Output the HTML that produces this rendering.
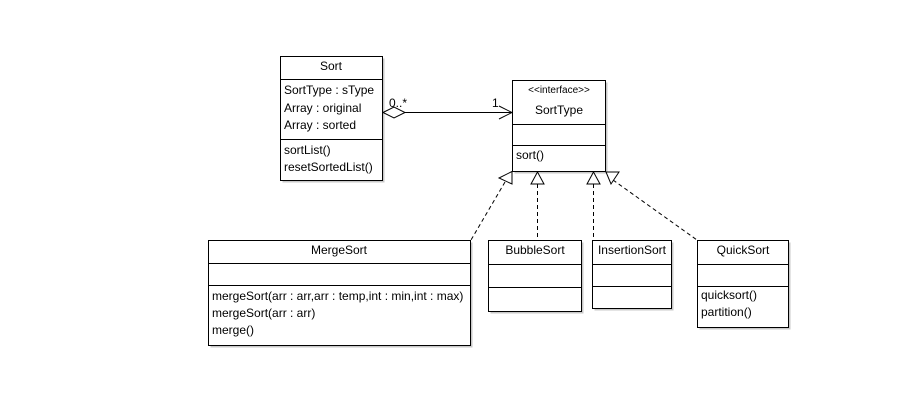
<!DOCTYPE html>
<html><head><style>
body{margin:0;background:#fff;}
svg text{font-family:"Liberation Sans",sans-serif;font-size:12px;fill:#000;}
</style></head><body>
<svg width="901" height="401" viewBox="0 0 901 401" xmlns="http://www.w3.org/2000/svg">
<g fill="#c8c8c8" stroke="none">
<rect x="282.5" y="58.5" width="102" height="124"/>
<rect x="514.5" y="82.5" width="93" height="91"/>
<rect x="210.5" y="242.5" width="262" height="105"/>
<rect x="490.5" y="242.5" width="93" height="71"/>
<rect x="594.5" y="242.5" width="79" height="68"/>
<rect x="699.5" y="242.5" width="91" height="87"/>
</g>
<g fill="#fff" stroke="#000" stroke-width="1">
<rect x="280.5" y="56.5" width="102" height="124"/>
<line x1="280.5" y1="79.5" x2="382.5" y2="79.5"/>
<line x1="280.5" y1="139.5" x2="382.5" y2="139.5"/>
<rect x="512.5" y="80.5" width="93" height="91"/>
<line x1="512.5" y1="124.5" x2="605.5" y2="124.5"/>
<line x1="512.5" y1="145.5" x2="605.5" y2="145.5"/>
<rect x="208.5" y="240.5" width="262" height="105"/>
<line x1="208.5" y1="263.5" x2="470.5" y2="263.5"/>
<line x1="208.5" y1="285.5" x2="470.5" y2="285.5"/>
<rect x="488.5" y="240.5" width="93" height="71"/>
<line x1="488.5" y1="264.5" x2="581.5" y2="264.5"/>
<line x1="488.5" y1="287.5" x2="581.5" y2="287.5"/>
<rect x="592.5" y="240.5" width="79" height="68"/>
<line x1="592.5" y1="264.5" x2="671.5" y2="264.5"/>
<line x1="592.5" y1="286.5" x2="671.5" y2="286.5"/>
<rect x="697.5" y="240.5" width="91" height="87"/>
<line x1="697.5" y1="264.5" x2="788.5" y2="264.5"/>
<line x1="697.5" y1="286.5" x2="788.5" y2="286.5"/>
</g>
<g stroke="#000" fill="none" stroke-width="1">
<line x1="405" y1="112.5" x2="512" y2="112.5"/>
<polygon points="383,112.5 394,107 405,112.5 394,118" fill="#fff"/>
<polyline points="499,106 512,112.5 499,119"/>
<g stroke-dasharray="4,3">
<line x1="505" y1="182" x2="471" y2="240"/>
<line x1="537.5" y1="184" x2="537.5" y2="240"/>
<line x1="593.5" y1="184" x2="593.5" y2="240"/>
<line x1="613" y1="180" x2="697" y2="240"/>
</g>
<g fill="#fff">
<polygon points="512,171.5 499,178 512,184"/>
<polygon points="537.5,172 531,184 544,184"/>
<polygon points="593.5,172 587,184 600,184"/>
<polygon points="606,172 619,172 611,184"/>
</g>
</g>
<text x="331" y="70" text-anchor="middle">Sort</text>
<text x="284" y="94">SortType : sType</text>
<text x="284" y="112">Array : original</text>
<text x="284" y="129">Array : sorted</text>
<text x="284" y="154">sortList()</text>
<text x="284" y="171">resetSortedList()</text>
<text x="389" y="107">0..*</text>
<text x="492" y="107">1</text>
<text x="559" y="93" text-anchor="middle" style="font-size:10px">&lt;&lt;interface&gt;&gt;</text>
<text x="559" y="114" text-anchor="middle">SortType</text>
<text x="516" y="159">sort()</text>
<text x="339" y="254" text-anchor="middle">MergeSort</text>
<text x="212" y="300">mergeSort(arr : arr,arr : temp,int : min,int : max)</text>
<text x="212" y="317">mergeSort(arr : arr)</text>
<text x="212" y="334">merge()</text>
<text x="535" y="254" text-anchor="middle">BubbleSort</text>
<text x="632" y="254" text-anchor="middle">InsertionSort</text>
<text x="743" y="254" text-anchor="middle">QuickSort</text>
<text x="701" y="299">quicksort()</text>
<text x="701" y="316">partition()</text>
</svg>
</body></html>
